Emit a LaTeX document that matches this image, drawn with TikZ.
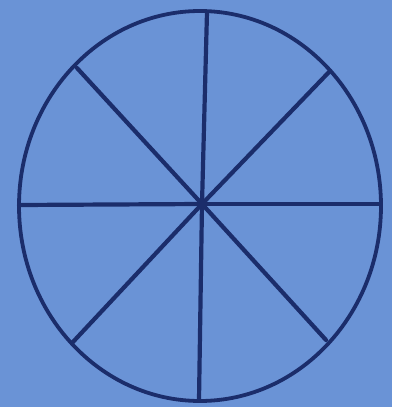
\documentclass[tikz,border=0pt]{standalone}
\usepackage{tikz}
\usetikzlibrary{positioning}
\definecolor{photobg}{HTML}{6A93D6}
\definecolor{inkline}{HTML}{1B2D6B}
\tikzset{
  rimline/.style={draw=inkline, line width=3.8pt},
  spokeline/.style={draw=inkline, line width=4.2pt, line cap=round},
}
\begin{document}
\begin{tikzpicture}[x=1pt, y=-1pt]
  \fill[photobg] (0,0) rectangle (392,407);
  \useasboundingbox (0,0) rectangle (392,407);
  % wheel centre and rim points
  \coordinate (hub) at (202,204);
  \coordinate (rimN) at (207,12);
  \coordinate (rimS) at (199,400);
  \coordinate (rimW) at (19,205);
  \coordinate (rimE) at (380,204);
  \coordinate (rimNW) at (77,68);
  \coordinate (rimNE) at (330,71);
  \coordinate (rimSW) at (72,343);
  \coordinate (rimSE) at (326,340);
  \draw[rimline] (200,206) ellipse [x radius=181pt, y radius=195pt];
  \foreach \r in {rimN,rimS,rimW,rimE,rimNW,rimNE,rimSW,rimSE}
    \draw[spokeline] (hub) -- (\r);
\end{tikzpicture}
\end{document}
